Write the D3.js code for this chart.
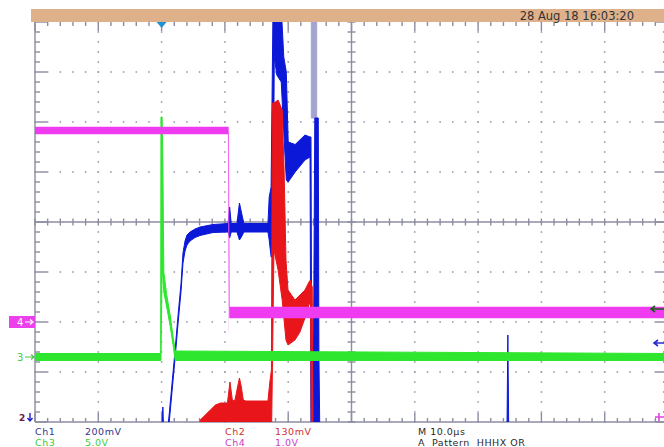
<!DOCTYPE html>
<html>
<head>
<meta charset="utf-8">
<script src="https://cdn.jsdelivr.net/npm/d3@7"></script>
<style>
  body { margin: 0; background: #fff; }
  svg { display: block; font-family: 'DejaVu Sans', sans-serif; }
</style>
</head>
<body>
<svg id="scope" width="664" height="447"></svg>
<script>
'use strict';

// time in microseconds (trigger = 0), amplitude in screen divisions from centre
// each trace is an envelope: lowest and highest value seen at that time
var ch1Time = [-20, 0.05, 0.2, 0.35, 1.0, 1.25, 1.64, 2.12, 2.59, 3.06, 3.38, 3.7, 4.01, 4.49, 5.28, 6.07, 8.12,
  10.5, 10.75, 11.0, 11.9, 12.3, 12.6, 13.0, 16.8, 17.0, 17.3, 17.6, 17.8, 18.2, 18.9, 19.3, 19.7, 20.0, 21.1,
  22.65, 23.45, 23.6, 23.75, 23.95, 24.0, 24.2, 24.75, 24.85, 25.0, 54.55, 54.7, 54.85, 80];
var ch1Lo = [-4.4, -4.4, -4.4, -4.4, -4.3, -3.94, -3.4, -2.74, -2.04, -1.4, -0.82, -0.58, -0.46, -0.38, -0.31, -0.27, -0.21,
  -0.2, -0.32, -0.2, -0.2, -0.36, -0.3, -0.2, -0.2, -0.36, -0.7, -0.7, 3.3, 2.94, 2.8, 1.8, 0.84, 0.8, 1.0,
  1.24, 1.3, -4.4, -4.4, -4.4, -4.4, -4.4, -4.4, -4.4, -4.4, -4.4, -4.4, -4.4, -4.4];
var ch1Hi = [-4.3, -4.3, -3.7, -4.3, -4.1, -3.78, -3.24, -2.58, -1.88, -1.24, -0.62, -0.38, -0.26, -0.2, -0.14, -0.1, -0.05,
  -0.03, 0.3, -0.03, -0.03, 0.38, 0.2, -0.03, -0.03, 0.5, 0.7, 4.3, 4.3, 4.3, 4.3, 3.3, 3.0, 1.6, 1.55,
  1.74, 1.7, 1.7, -4.3, -4.3, -2.6, 2.08, 2.08, -2.6, -4.3, -4.3, -2.26, -4.3, -4.3];
// faded persistence at the top of the ch1 burst
var ch1GhostTime = [23.65, 24.5];
var ch1GhostLo = [2.08, 2.08];
var ch1GhostHi = [4.3, 4.3];

var ch2Time = [-20, 6.0, 6.1, 6.9, 7.7, 8.5, 9.3, 10.4, 10.8, 11.2, 11.6, 12.0, 12.3, 12.6, 12.9, 13.3, 16.8, 17.1, 17.35,
  17.5, 17.75, 18.4, 19.05, 19.35, 19.65, 19.97, 21.07, 21.86, 22.65, 23.28, 23.52, 23.68, 23.8, 23.9, 80];
var ch2Lo = [-4.4, -4.4, -4.4, -4.4, -4.4, -4.4, -4.4, -4.4, -4.4, -4.4, -4.4, -4.4, -4.4, -4.4, -4.4, -4.4, -4.4, -4.4, -4.4,
  -3.0, -0.56, -0.96, -1.56, -1.96, -2.36, -2.46, -2.36, -2.2, -1.92, -1.66, -1.56, -4.4, -4.4, -4.4, -4.4];
var ch2Hi = [-4.3, -4.3, -3.96, -3.86, -3.76, -3.66, -3.62, -3.62, -3.2, -3.58, -3.56, -3.3, -3.12, -3.3, -3.56, -3.58, -3.58, -3.2, -2.96,
  2.38, 2.38, 2.44, 2.24, 1.04, -0.76, -1.36, -1.56, -1.46, -1.36, -1.2, -1.16, -1.26, -1.3, -4.3, -4.3];

var ch3Time = [-20, -0.15, -0.1, 0.08, 0.2, 0.35, 0.8, 1.35, 1.8, 2.15, 80];
var ch3Lo = [-2.77, -2.77, -2.77, -0.9, -1.1, -1.4, -1.7, -2.08, -2.45, -2.77, -2.77];
var ch3Hi = [-2.63, -2.63, 2.1, 2.1, 1.2, -1.0, -1.45, -1.86, -2.28, -2.58, -2.63];

var ch4Time = [-20, 10.55, 10.7, 80];
var ch4Lo = [1.76, 1.76, -1.92, -1.92];
var ch4Hi = [1.9, 1.9, -1.7, -1.7];
// the falling edge of ch4, only faintly written
var ch4EdgeTime = [10.58, 10.64];
var ch4EdgeLo = [-2.2, -2.2];
var ch4EdgeHi = [1.84, 1.84];

var chNames = ['Ch1', 'Ch2', 'Ch3', 'Ch4'];
var chScales = ['200mV', '130mV', '5.0V', '1.0V'];
var chColors = ['#0c18d8', '#e8161a', '#2ee62e', '#f03cf0'];
var chTextColors = ['#36368f', '#cc3434', '#40cc40', '#c840c8'];
var timeLabels = ['M 10.0\u00b5s', 'A  Pattern  HHHX OR'];
var dateLabel = '28 Aug 18 16:03:20';

var svg = d3.select('#scope');
var x = d3.scaleLinear().domain([-20, 80]).range([35, 668]);
var y = d3.scaleLinear().domain([-4, 4]).range([422, 22]);

var majorT = d3.range(-20, 81, 10);
var minorT = d3.range(-20, 81, 2);
var majorV = d3.range(-4, 5, 1);
var minorV = d3.range(0, 41).map(function (i) { return -4 + i * 0.2; });
var gridColor = '#8c8ca2';

// graticule dots
var grid = svg.append('g');
var dots = [];
majorT.forEach(function (t) {
  if (t === -20 || t === 30 || t === 80) { return; }
  minorV.forEach(function (v) { dots.push([t, v]); });
});
majorV.forEach(function (v) {
  if (v === -4 || v === 0 || v === 4) { return; }
  minorT.forEach(function (t) { dots.push([t, v]); });
});
grid.selectAll('circle').data(dots).enter().append('circle')
  .attr('cx', function (d) { return x(d[0]); })
  .attr('cy', function (d) { return y(d[1]); })
  .attr('r', 0.9)
  .attr('fill', '#a2a2b4');

function tickLines(list, fn) {
  grid.append('g').selectAll('line').data(list).enter().append('line')
    .each(fn)
    .attr('stroke', gridColor)
    .attr('stroke-width', 1.4);
}

function isMajor(v) { return Math.abs(v - Math.round(v)) < 1e-6; }

// edges and centre cross
tickLines([0], function () {
  d3.select(this).attr('x1', x(-20)).attr('x2', x(-20)).attr('y1', y(4)).attr('y2', y(-4));
});
tickLines([0], function () {
  d3.select(this).attr('x1', x(80)).attr('x2', x(80)).attr('y1', y(4)).attr('y2', y(-4));
});
tickLines([0], function () {
  d3.select(this).attr('x1', x(-20)).attr('x2', x(80)).attr('y1', y(-4)).attr('y2', y(-4));
});
tickLines([0], function () {
  d3.select(this).attr('x1', x(-20)).attr('x2', x(80)).attr('y1', y(0)).attr('y2', y(0));
});
tickLines([0], function () {
  d3.select(this).attr('x1', x(30)).attr('x2', x(30)).attr('y1', y(4)).attr('y2', y(-4));
});

// edge ticks
tickLines(minorT, function (t) {
  var len = (t % 10 === 0) ? 9 : 4;
  d3.select(this).attr('x1', x(t)).attr('x2', x(t)).attr('y1', y(4)).attr('y2', y(4) + len);
});
tickLines(minorT, function (t) {
  var len = (t % 10 === 0) ? 9 : 4;
  d3.select(this).attr('x1', x(t)).attr('x2', x(t)).attr('y1', y(-4)).attr('y2', y(-4) - len);
});
tickLines(minorV, function (v) {
  var len = isMajor(v) ? 12 : 5;
  d3.select(this).attr('x1', x(-20)).attr('x2', x(-20) + len).attr('y1', y(v)).attr('y2', y(v));
});
tickLines(minorV, function (v) {
  var len = isMajor(v) ? 12 : 5;
  d3.select(this).attr('x1', x(80)).attr('x2', x(80) - len).attr('y1', y(v)).attr('y2', y(v));
});
tickLines(minorT, function (t) {
  d3.select(this).attr('x1', x(t)).attr('x2', x(t)).attr('y1', y(0) - 3.5).attr('y2', y(0) + 3.5);
});
tickLines(minorV, function (v) {
  d3.select(this).attr('x1', x(30) - 4).attr('x2', x(30) + 4).attr('y1', y(v)).attr('y2', y(v));
});

// traces
svg.append('clipPath').attr('id', 'screen').append('rect')
  .attr('x', x(-20)).attr('y', y(4))
  .attr('width', x(80) - x(-20)).attr('height', y(-4) - y(4));
var traces = svg.append('g').attr('clip-path', 'url(#screen)');

var area = d3.area()
  .x(function (d) { return x(d.t); })
  .y0(function (d) { return y(d.lo); })
  .y1(function (d) { return y(d.hi); });

function drawTrace(time, lo, hi, color, width) {
  var rows = time.map(function (t, i) { return {t: t, lo: lo[i], hi: hi[i]}; });
  traces.append('path').datum(rows)
    .attr('d', area)
    .attr('fill', color)
    .attr('stroke', color)
    .attr('stroke-width', width === undefined ? 1 : width)
    .attr('stroke-linejoin', 'round');
}

drawTrace(ch1GhostTime, ch1GhostLo, ch1GhostHi, '#a4a4d2');
drawTrace(ch1Time, ch1Lo, ch1Hi, chColors[0]);
drawTrace(ch2Time, ch2Lo, ch2Hi, chColors[1]);
drawTrace(ch3Time, ch3Lo, ch3Hi, chColors[2]);
drawTrace(ch4EdgeTime, ch4EdgeLo, ch4EdgeHi, '#f4b4f4', 0);
drawTrace(ch4Time, ch4Lo, ch4Hi, chColors[3], 0.5);

// header bar
svg.append('rect')
  .attr('x', 31).attr('y', 9)
  .attr('width', 664 - 31).attr('height', y(4) - 9)
  .attr('fill', '#dfb18b');
svg.append('text')
  .attr('x', 634).attr('y', 20)
  .attr('text-anchor', 'end')
  .attr('font-size', 11.5)
  .attr('fill', '#333')
  .text(dateLabel);

// trigger position marker
svg.append('path')
  .attr('d', 'M' + (x(0) - 5) + ',' + y(4) + 'L' + (x(0) + 5) + ',' + y(4) + 'L' + x(0) + ',' + (y(4) + 6) + 'Z')
  .attr('fill', '#2292d6');

function arrowRight(x0, x1, yy, color) {
  svg.append('path')
    .attr('d', 'M' + x0 + ',' + yy + 'L' + x1 + ',' + yy + 'M' + (x1 - 3) + ',' + (yy - 2.5) + 'L' + x1 + ',' + yy + 'L' + (x1 - 3) + ',' + (yy + 2.5))
    .attr('stroke', color).attr('stroke-width', 1.2).attr('fill', 'none');
}
function arrowLeft(x0, x1, yy, color) {
  svg.append('path')
    .attr('d', 'M' + x0 + ',' + yy + 'L' + x1 + ',' + yy + 'M' + (x1 + 4) + ',' + (yy - 3) + 'L' + x1 + ',' + yy + 'L' + (x1 + 4) + ',' + (yy + 3))
    .attr('stroke', color).attr('stroke-width', 1.6).attr('fill', 'none');
}

// channel ground markers on the left
svg.append('rect')
  .attr('x', 9).attr('y', y(-2) - 6)
  .attr('width', x(-20) - 9).attr('height', 12)
  .attr('fill', '#ec40ec');
svg.append('text')
  .attr('x', 17).attr('y', y(-2) + 4)
  .attr('font-size', 10).attr('fill', '#fff')
  .text('4');
arrowRight(25, 33, y(-2), '#fff');

svg.append('text')
  .attr('x', 17).attr('y', y(-2.7) + 4)
  .attr('font-size', 10).attr('fill', '#44cc44')
  .text('3');
arrowRight(25, 34, y(-2.7), '#44cc44');

svg.append('text')
  .attr('x', 19).attr('y', y(-3.9) + 4)
  .attr('font-size', 9).attr('font-weight', 'bold').attr('fill', '#6a1a40')
  .text('2');
svg.append('path')
  .attr('d', 'M30,' + (y(-3.9) - 4) + 'L30,' + (y(-3.9) + 4) + 'M27.5,' + (y(-3.9) + 1) + 'L30,' + (y(-3.9) + 4) + 'L32.5,' + (y(-3.9) + 1))
  .attr('stroke', '#2222cc').attr('stroke-width', 1.4).attr('fill', 'none');

// trigger level markers on the right
arrowLeft(664, 651, y(-1.74), '#1d5e1d');
arrowLeft(664, 654, y(-2.42), '#2a2ad2');
svg.append('path')
  .attr('d', 'M655,' + y(-3.9) + 'L664,' + y(-3.9) + 'M659,' + (y(-3.9) - 4) + 'L659,' + (y(-3.9) + 4))
  .attr('stroke', '#e040e0').attr('stroke-width', 1.6);

// footer readouts
var footer = svg.append('g').attr('font-size', 9.5).attr('letter-spacing', 0.5);
var colX = [35, 225];
var rowY = [434.5, 445.5];
chNames.forEach(function (name, i) {
  var cx = colX[i % 2];
  var cy = rowY[Math.floor(i / 2)];
  footer.append('text').attr('x', cx).attr('y', cy).attr('fill', chTextColors[i]).text(name);
  footer.append('text').attr('x', cx + 50).attr('y', cy).attr('fill', chTextColors[i]).text(chScales[i]);
});
timeLabels.forEach(function (label, i) {
  footer.append('text').attr('x', 418).attr('y', rowY[i]).attr('fill', '#2a2a2a')
    .attr('xml:space', 'preserve').style('white-space', 'pre')
    .text(label);
});
</script>
</body>
</html>
